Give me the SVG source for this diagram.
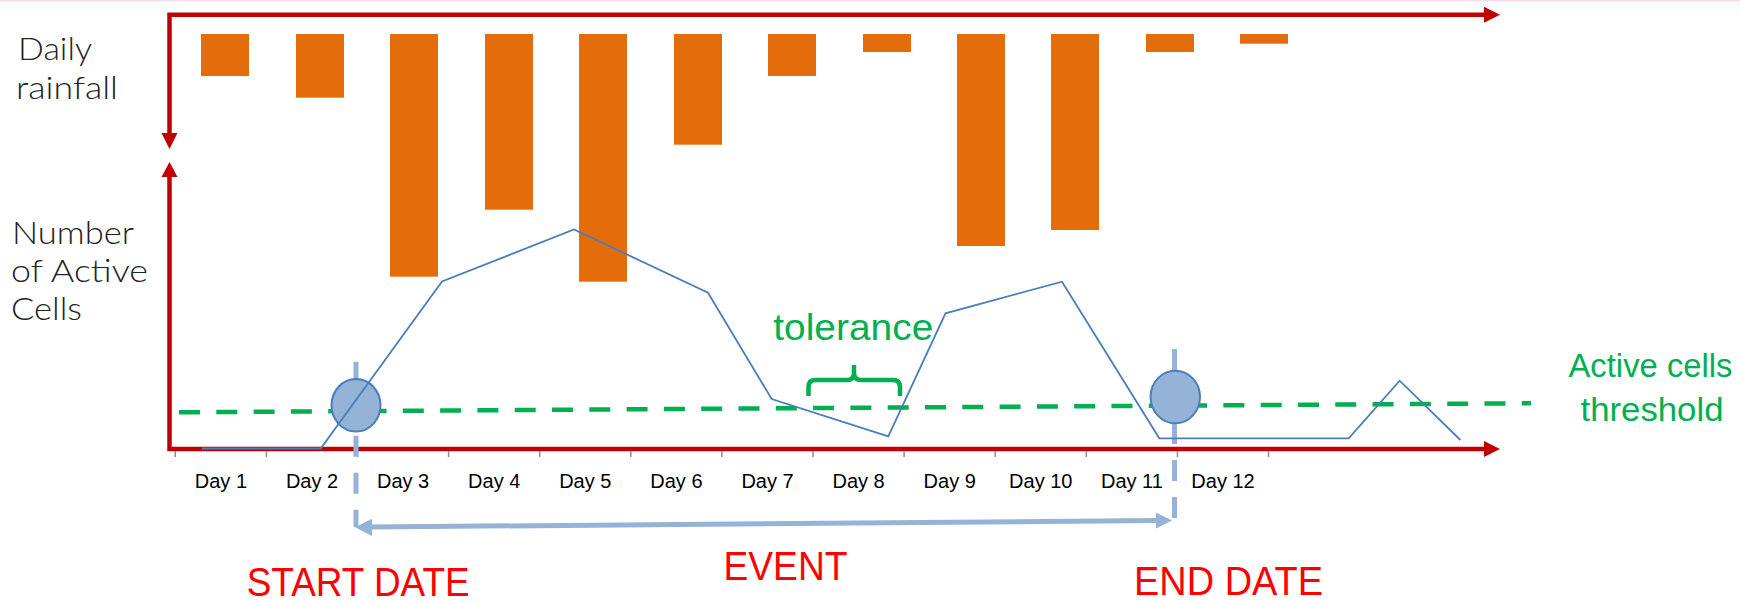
<svg xmlns="http://www.w3.org/2000/svg" width="1740" height="601" viewBox="0 0 1740 601">
<style>
.bar{fill:#E46C0A}
.axis{fill:none;stroke:#C00000;stroke-width:4.5;stroke-linejoin:miter}
.axhead{fill:#C00000}
.tick{stroke:#8C8C8C;stroke-width:1.5}
.day{font-family:"Liberation Sans",Arial,sans-serif;font-size:20px;fill:#000;text-anchor:middle}
.ylab{font-family:Lato,"Open Sans","Liberation Sans",sans-serif;font-weight:300;font-size:31px;fill:#222}
.green{font-family:"Liberation Sans",Arial,sans-serif;fill:#00B050}
.red{font-family:"Liberation Sans",Arial,sans-serif;font-size:40px;fill:#FF0000}
.trend{fill:none;stroke:#4A7EBB;stroke-width:1.8;stroke-linejoin:miter}
.marker{fill:#95B3D7;stroke:#4A7EBB;stroke-width:2}
.vdash{stroke:#95B3D7;stroke-width:5;stroke-dasharray:21 16}
.evline{stroke:#95B3D7;stroke-width:5}
.evhead{fill:#95B3D7}
</style>
<rect x="0" y="0" width="1740" height="601" fill="#FFFFFF"/>
<rect x="0" y="0" width="1740" height="8" fill="#F6FDFD"/>
<line x1="0" y1="0.5" x2="1740" y2="0.5" stroke="#FFD9E2" stroke-width="1"/>

<g id="rainfall-bars">
<rect class="bar" x="201" y="34" width="48" height="42"/>
<rect class="bar" x="296" y="34" width="48" height="63.7"/>
<rect class="bar" x="390" y="34" width="48" height="242.7"/>
<rect class="bar" x="485" y="34" width="48" height="175.7"/>
<rect class="bar" x="579" y="34" width="48" height="247.7"/>
<rect class="bar" x="674" y="34" width="48" height="110.7"/>
<rect class="bar" x="768" y="34" width="48" height="42"/>
<rect class="bar" x="863" y="34" width="48" height="18"/>
<rect class="bar" x="957" y="34" width="48" height="212"/>
<rect class="bar" x="1051" y="34" width="48" height="196"/>
<rect class="bar" x="1146" y="34" width="48" height="18"/>
<rect class="bar" x="1240" y="34" width="48" height="9.7"/>
</g>

<g id="axes">
<path class="axis" d="M169.5 136 V14.7 H1486"/>
<polygon class="axhead" points="161.5,133 177.5,133 169.5,149"/>
<polygon class="axhead" points="1484,6.7 1500,14.7 1484,22.7"/>
<path class="axis" d="M169.5 175 V449 H1486"/>
<polygon class="axhead" points="161.5,177 177.5,177 169.5,162"/>
<polygon class="axhead" points="1484,441 1500,449 1484,457"/>
<g id="ticks">
<line class="tick" x1="175.3" y1="451" x2="175.3" y2="457"/>
<line class="tick" x1="266.4" y1="451" x2="266.4" y2="457"/>
<line class="tick" x1="357.5" y1="451" x2="357.5" y2="457"/>
<line class="tick" x1="448.6" y1="451" x2="448.6" y2="457"/>
<line class="tick" x1="539.7" y1="451" x2="539.7" y2="457"/>
<line class="tick" x1="630.8" y1="451" x2="630.8" y2="457"/>
<line class="tick" x1="721.9" y1="451" x2="721.9" y2="457"/>
<line class="tick" x1="813" y1="451" x2="813" y2="457"/>
<line class="tick" x1="904.1" y1="451" x2="904.1" y2="457"/>
<line class="tick" x1="995.2" y1="451" x2="995.2" y2="457"/>
<line class="tick" x1="1086.3" y1="451" x2="1086.3" y2="457"/>
<line class="tick" x1="1177.4" y1="451" x2="1177.4" y2="457"/>
<line class="tick" x1="1268.5" y1="451" x2="1268.5" y2="457"/>
</g>
</g>

<g id="day-labels">
<text class="day" x="220.9" y="487.5">Day 1</text>
<text class="day" x="312" y="487.5">Day 2</text>
<text class="day" x="403.1" y="487.5">Day 3</text>
<text class="day" x="494.2" y="487.5">Day 4</text>
<text class="day" x="585.3" y="487.5">Day 5</text>
<text class="day" x="676.4" y="487.5">Day 6</text>
<text class="day" x="767.5" y="487.5">Day 7</text>
<text class="day" x="858.6" y="487.5">Day 8</text>
<text class="day" x="949.7" y="487.5">Day 9</text>
<text class="day" x="1040.8" y="487.5">Day 10</text>
<text class="day" x="1131.9" y="487.5">Day 11</text>
<text class="day" x="1223" y="487.5">Day 12</text>
</g>

<g id="axis-titles">
<text class="ylab" x="18" y="60" textLength="74" lengthAdjust="spacingAndGlyphs">Daily</text>
<text class="ylab" x="16" y="99" textLength="102" lengthAdjust="spacingAndGlyphs">rainfall</text>
<text class="ylab" x="12" y="244" textLength="122" lengthAdjust="spacingAndGlyphs">Number</text>
<text class="ylab" x="11" y="282" textLength="137" lengthAdjust="spacingAndGlyphs">of Active</text>
<text class="ylab" x="11" y="320" textLength="71" lengthAdjust="spacingAndGlyphs">Cells</text>
</g>

<g id="threshold">
<line x1="179" y1="412.3" x2="1531" y2="403.3" stroke="#00B050" stroke-width="4.5" stroke-dasharray="21 16.3"/>
<text class="green" x="1650.5" y="376.5" font-size="34" text-anchor="middle" textLength="164" lengthAdjust="spacingAndGlyphs">Active cells</text>
<text class="green" x="1652" y="420.7" font-size="34" text-anchor="middle" textLength="143" lengthAdjust="spacingAndGlyphs">threshold</text>
</g>

<g id="connectors">
<line class="vdash" x1="356" y1="361.7" x2="356" y2="527"/>
<line class="vdash" x1="1174.5" y1="349" x2="1174.5" y2="520.5"/>
<line class="evline" x1="370" y1="527" x2="1158" y2="520.6"/>
<polygon class="evhead" points="355,527.3 372,518.7 372,535.9"/>
<polygon class="evhead" points="1172,520.5 1156,512.5 1156,528.5"/>
</g>

<g id="start-marker">
<ellipse class="marker" cx="356" cy="405.3" rx="24.5" ry="26.3"/>
</g>
<g id="end-marker">
<ellipse class="marker" cx="1175.3" cy="397" rx="24.7" ry="26.3"/>
</g>

<g id="active-cells-line">
<polyline class="trend" points="202,448.5 320.7,448.5 442,281.5 574,229.5 708,292.7 771.7,399 888.3,436.3 945.5,313.3 1062,281.7 1159.3,438.3 1348.7,438.3 1399.7,380.7 1460.4,440"/>
</g>

<g id="tolerance">
<path d="M808.5 396 V387 Q808.5 380 815.5 380 H847 Q854 380 854 373 V365 M854 373 Q854 380 861 380 H893 Q900 380 900 387 V396" fill="none" stroke="#00B050" stroke-width="4.5"/>
<text class="green" x="773.3" y="340" font-size="37" textLength="160" lengthAdjust="spacingAndGlyphs">tolerance</text>
</g>

<g id="labels">
<text class="red" x="246.7" y="596" textLength="223" lengthAdjust="spacingAndGlyphs">START DATE</text>
<text class="red" x="723.5" y="580" textLength="124" lengthAdjust="spacingAndGlyphs">EVENT</text>
<text class="red" x="1134" y="595" textLength="189" lengthAdjust="spacingAndGlyphs">END DATE</text>
</g>
</svg>
